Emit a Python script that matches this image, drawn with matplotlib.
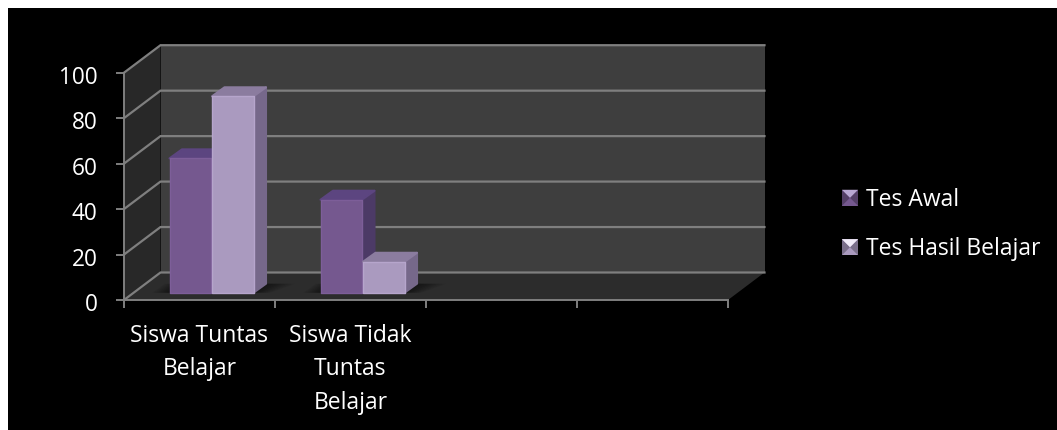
import matplotlib
matplotlib.use('Agg')
import matplotlib.pyplot as plt
from matplotlib.colors import to_hex, to_rgb
from matplotlib.legend_handler import HandlerBase
from matplotlib.patches import Patch, Polygon, Rectangle
from matplotlib.transforms import ScaledTranslation

plt.rcParams['font.family'] = ['Open Sans', 'DejaVu Sans']

# Data
kategori = ['Siswa Tuntas\nBelajar', 'Siswa Tidak\nTuntas\nBelajar', '', '']
seri = ['Tes Awal', 'Tes Hasil Belajar']
tes_awal = [59.1, 40.9]
tes_hasil = [86.4, 13.6]
yticks = [0, 20, 40, 60, 80, 100]

# warna: depan, samping, atas
warna_awal = ('#75588f', '#4c3a66', '#5c4580')
warna_hasil = ('#aa9abf', '#76688a', '#8b7c9f')

W, H = 1057, 430
fig = plt.figure(figsize=(W / 100, H / 100), dpi=100, facecolor='white')
fig.patches.append(Rectangle((8 / W, 0), (W - 8) / W, (H - 8) / H, transform=fig.transFigure,
                             facecolor='black', edgecolor='none', zorder=-5))

# sumbu depan: 124..728 px, 72.7..300 px
ax = fig.add_axes([124 / W, (H - 300) / H, 604 / W, 227.3 / H])
ax.set_xlim(0, 4)
ax.set_ylim(0, 100)
ax.patch.set_visible(False)
for s in ax.spines.values():
    s.set_visible(False)

# kedalaman kotak 3D dalam satuan data
DX = 36.5 / 151
DY = 27.5 / 2.273
GRIS = '#7f7f7f'


def bidang(pts, warna, z, **kw):
    ax.add_patch(Polygon(pts, closed=True, facecolor=warna, edgecolor='none', clip_on=False, zorder=z, **kw))


# dinding belakang, samping, lantai
bidang([(DX, DY), (4 + DX, DY), (4 + DX, 100 + DY), (DX, 100 + DY)], '#3e3e3e', 1)
bidang([(0, 0), (DX, DY), (DX, 100 + DY), (0, 100)], '#282828', 1)
bidang([(0, 0), (4, 0), (4 + DX, DY), (DX, DY)], '#2c2c2c', 1)

# garis grid pada dinding
for v in yticks:
    ax.plot([0, DX, 4 + DX], [v, v + DY, v + DY], color=GRIS, lw=1.6, clip_on=False, zorder=2,
            solid_joinstyle='miter')

# sumbu dan tick
ax.plot([0, 0], [0, 100], color=GRIS, lw=1.4, clip_on=False, zorder=2)
ax.plot([0, 4], [0, 0], color=GRIS, lw=1.4, clip_on=False, zorder=2)
ax.set_xticks(range(5))
ax.set_yticks(yticks)
ax.set_xticklabels([])
ax.tick_params(axis='both', color=GRIS, width=1.4, length=6, labelcolor='white', labelsize=16.3)
ax.tick_params(axis='y', pad=13)
geser = ScaledTranslation(0, -2 / 100, fig.dpi_scale_trans)
for lbl in ax.get_yticklabels():
    lbl.set_transform(lbl.get_transform() + geser)
for i, nama in enumerate(kategori):
    ax.annotate(nama, (i + 0.5, 0), xytext=(0, -17), textcoords='offset points', ha='center', va='top',
                color='white', fontsize=16.5, linespacing=1.53, annotation_clip=False)

# batang 3D
lebar = 41.5 / 151
awal_x = 45.5 / 151
dasar = 7.3 / 2.273
dx_b = 12.5 / 151
dy_b = 9 / 2.273


def batang(x, nilai, warna, z):
    depan, samping, atas = warna
    t = nilai + dasar
    x2 = x + lebar
    # bayangan lembut di lantai
    for k in range(1, 9):
        lebar_b = 0.02 * k
        bidang([(x - lebar_b * 0.7, dasar), (x2 + lebar_b * 0.7, dasar),
                (x2 + dx_b + 1.2 * lebar_b, dasar + dy_b), (x - lebar_b * 0.7 + dx_b, dasar + dy_b)],
               'black', 3, alpha=0.07)
    for pts, warna_sisi in (([(x2, dasar), (x2 + dx_b, dasar + dy_b), (x2 + dx_b, t + dy_b), (x2, t)], samping),
                            ([(x, t), (x2, t), (x2 + dx_b, t + dy_b), (x + dx_b, t + dy_b)], atas)):
        ax.add_patch(Polygon(pts, closed=True, facecolor=warna_sisi, edgecolor=warna_sisi, lw=1.5,
                             joinstyle='round', clip_on=False, zorder=z))
    tepi = to_hex(tuple(min(1, c * 1.07) for c in to_rgb(depan)))
    ax.add_patch(Polygon([(x, dasar), (x2, dasar), (x2, t), (x, t)], closed=True, facecolor=depan,
                         edgecolor=tepi, lw=1.0, joinstyle='round', clip_on=False, zorder=z + 0.1))


for i, (a, b) in enumerate(zip(tes_awal, tes_hasil)):
    batang(i + awal_x, a, warna_awal, 4 + i)
    batang(i + awal_x + lebar + 1 / 151, b, warna_hasil, 4.5 + i)


# kotak legenda bergaya piramida
class HandlerPiramida(HandlerBase):
    def create_artists(self, legend, orig, xd, yd, width, height, fontsize, trans):
        warna = orig.get_facecolor()
        sisi = 11.5
        kiri = -xd
        b = -yd + (height - sisi) / 2
        tengah = (kiri + sisi / 2, b + sisi / 2)
        gelap = tuple(c * 0.72 for c in warna[:3])
        kotak = Rectangle((kiri, b), sisi, sisi, facecolor=warna, edgecolor='none', transform=trans)
        kiri_t = Polygon([(kiri, b), (kiri, b + sisi), tengah], closed=True, facecolor=gelap,
                         edgecolor='none', transform=trans)
        kanan_t = Polygon([(kiri + sisi, b), (kiri + sisi, b + sisi), tengah], closed=True, facecolor=gelap,
                          edgecolor='none', transform=trans)
        atas_t = Polygon([(kiri, b + sisi), (kiri + sisi, b + sisi), tengah], closed=True,
                         facecolor=orig.get_edgecolor(), edgecolor='none', transform=trans)
        return [kotak, kiri_t, kanan_t, atas_t]


handles = [Patch(facecolor=warna_awal[0], edgecolor='#b9a7d3', label=seri[0]),
           Patch(facecolor=warna_hasil[0], edgecolor='#f1ecf8', label=seri[1])]
fig.legend(handles=handles, loc='center left', bbox_to_anchor=(842 / W, (H - 224.5) / H), frameon=False,
           labelcolor='white', fontsize=16.5, labelspacing=1.11, handlelength=0.75, handleheight=0.7,
           handletextpad=0.3, borderpad=0, borderaxespad=0,
           handler_map={Patch: HandlerPiramida()})

fig.savefig('out.png', dpi=100)
